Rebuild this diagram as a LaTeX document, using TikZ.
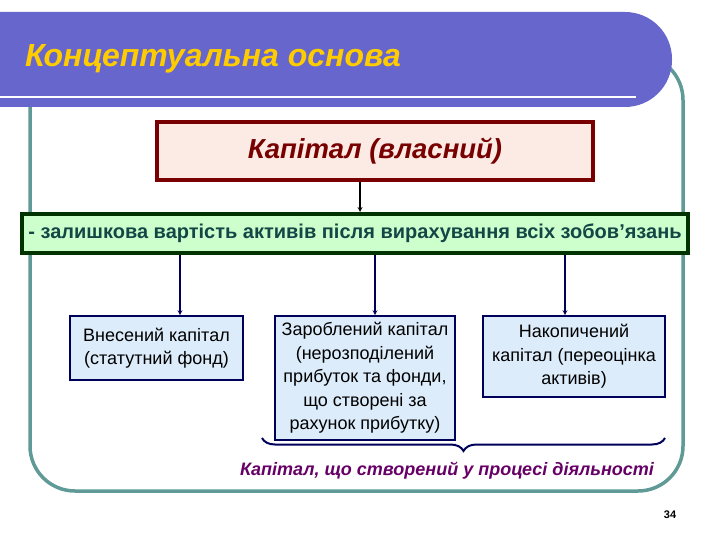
\documentclass[tikz,border=0pt]{standalone}
\usepackage{fontspec}
\setmainfont{Liberation Sans}
\usepackage{tikz}
\usetikzlibrary{positioning}
\usetikzlibrary{decorations.pathreplacing}

\definecolor{barblue}{RGB}{102,102,204}
\definecolor{titleyellow}{RGB}{255,204,0}
\definecolor{framegreen}{RGB}{95,154,150}
\definecolor{capred}{RGB}{120,0,0}
\definecolor{capfill}{RGB}{252,234,228}
\definecolor{defgreen}{RGB}{0,51,0}
\definecolor{deffill}{RGB}{204,255,204}
\definecolor{deftext}{RGB}{20,70,70}
\definecolor{boxnavy}{RGB}{0,0,90}
\definecolor{boxfill}{RGB}{220,236,250}
\definecolor{notepurple}{RGB}{102,0,102}

\tikzset{
	kind/.style={draw=boxnavy, line width=1.6pt, fill=boxfill, align=center,
		inner sep=0pt, font=\fontsize{18}{23.5}\selectfont},
	link/.style={->, >=stealth, boxnavy, line width=1.2pt}
}

\begin{document}
\begin{tikzpicture}[x=1pt, y=-1pt]
		\useasboundingbox (0,0) rectangle (720,540);
		\draw [framegreen, line width=3.5pt, rounded corners=45pt] (30,55) rectangle (683,491);
		\fill [barblue] (0,12) [rounded corners=47pt] -- (672,12) -- (672,107) [sharp corners] -- (0,107) -- cycle;
		\draw [white, line width=2.5pt] (0,97) -- (636,97);
		\node [anchor=base west, inner sep=0pt, text=titleyellow, font=\fontsize{32}{36}\selectfont\bfseries\itshape] (t) at (25,67) {Концептуальна основа};
		\node [draw=capred, line width=4pt, fill=capfill, minimum width=436pt, minimum height=58pt, text=capred, font=\fontsize{27.5}{30}\selectfont\bfseries\itshape] (0) at (375,151) {Капітал (власний)};
		\node [draw=defgreen, line width=4pt, fill=deffill, minimum width=666pt, minimum height=39pt, inner sep=0pt, text=deftext, font=\fontsize{20}{22}\selectfont\bfseries] (1) at (355,233.5) {- залишкова вартість активів після вирахування всіх зобов’язань};
		\node [kind, minimum width=173pt, minimum height=64pt] (2) at (156.5,348) {Внесений капітал\\(статутний фонд)};
		\node [kind, minimum width=180pt, minimum height=124pt] (3) at (365,378) {Зароблений капітал\\(нерозподілений\\прибуток та фонди,\\що створені за\\рахунок прибутку)};
		\node [kind, minimum width=182pt, minimum height=81pt] (4) at (574,356.5) {Накопичений\\капітал (переоцінка\\активів)};
		\coordinate (a0) at (360,0);
		\coordinate (a2) at (180,0);
		\coordinate (a3) at (375,0);
		\coordinate (a4) at (565,0);
		\draw [->, >=stealth, black, line width=1.2pt] (0.south -| a0)--(1.north -| a0);
		\draw [link] (1.south -| a2)--(2.north -| a2);
		\draw [link] (1.south -| a3)--(3.north -| a3);
		\draw [link] (1.south -| a4)--(4.north -| a4);
		\coordinate (b0) at (262,438);
		\coordinate (b1) at (665,438);
		\draw [boxnavy, line width=2pt, decorate, decoration={brace, mirror, amplitude=13pt}] (b0)--(b1);
		\node [text=notepurple, font=\fontsize{18}{20}\selectfont\bfseries\itshape] (5) at (447,471) {Капітал, що створений у процесі діяльності};
		\node [font=\fontsize{11}{13}\selectfont\bfseries] (6) at (670,515) {34};
		\end{tikzpicture}
\end{document}
